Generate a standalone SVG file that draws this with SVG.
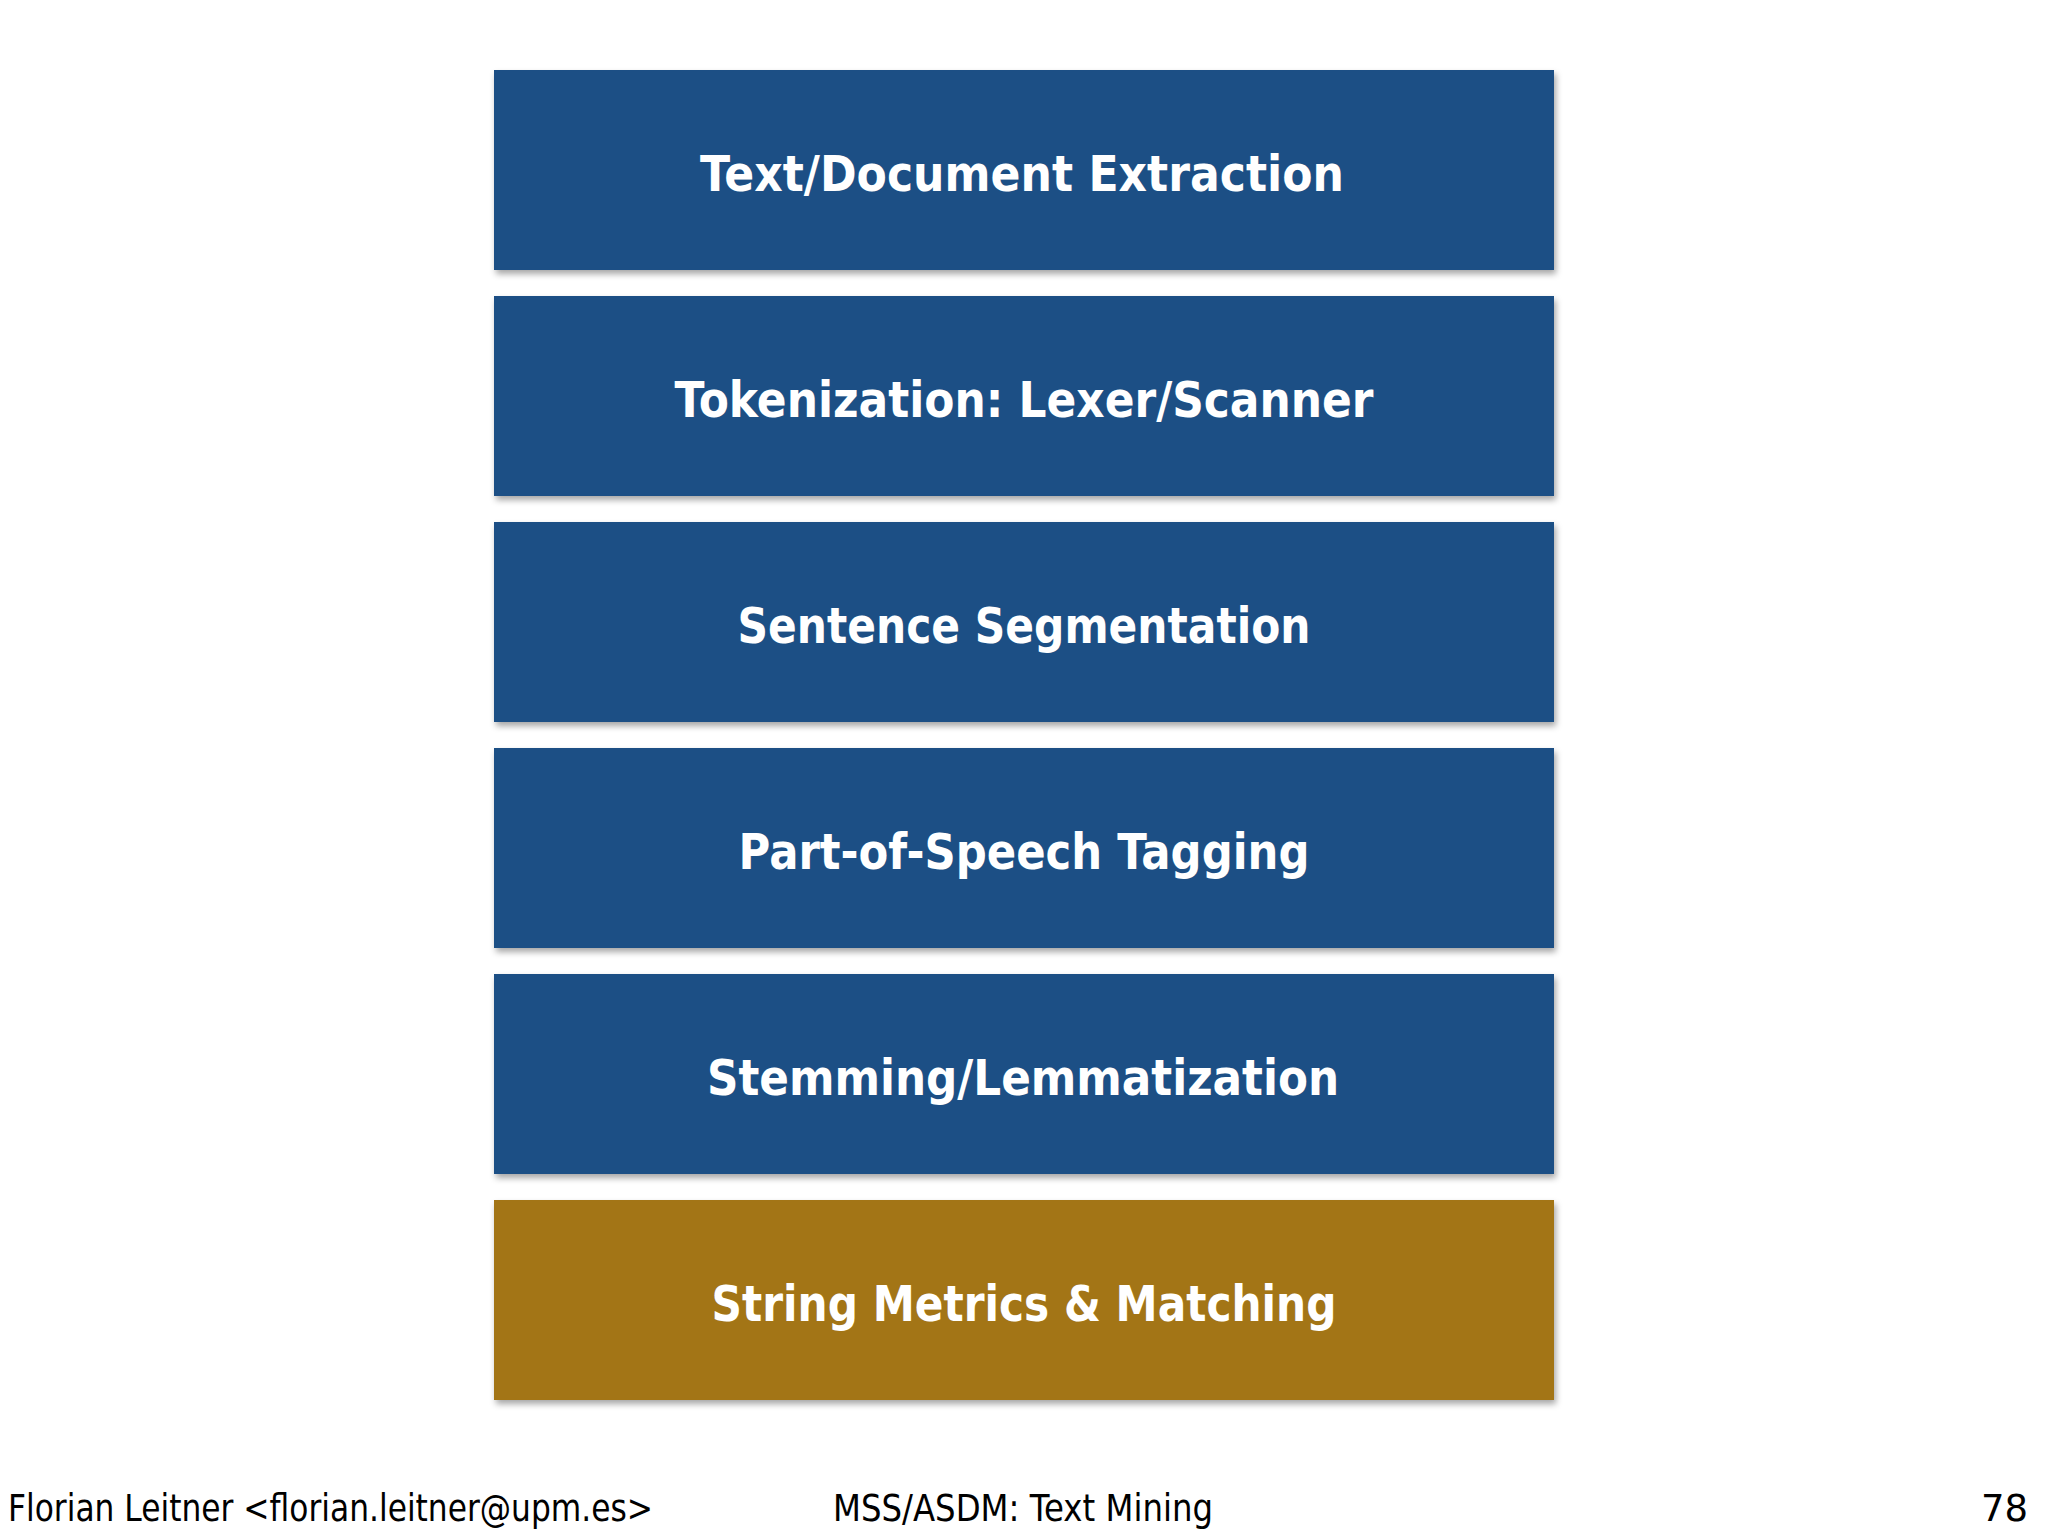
<svg xmlns="http://www.w3.org/2000/svg" width="2048" height="1536" viewBox="0 0 2048 1536">
<defs>
<filter id="sh" x="-5%" y="-10%" width="110%" height="125%">
<feDropShadow dx="2" dy="4" stdDeviation="3" flood-color="#000" flood-opacity="0.35"/>
</filter>
<style>
.box{filter:url(#sh);}
.blue{fill:#1B4F85;}
.gold{fill:#A37415;}
.lbl{font-family:"DejaVu Sans",Verdana,sans-serif;font-weight:bold;font-size:50px;fill:#fff;text-anchor:middle;}
.foot{font-family:"DejaVu Sans",Tahoma,sans-serif;font-size:37px;fill:#000;}
</style>
</defs>
<rect width="2048" height="1536" fill="#fff"/>
<g id="n1"><rect class="box blue" x="494" y="70" width="1060" height="200"/><text class="lbl" x="1022" y="191" textLength="644" lengthAdjust="spacingAndGlyphs">Text/Document Extraction</text></g>
<g id="n2"><rect class="box blue" x="494" y="296" width="1060" height="200"/><text class="lbl" x="1024" y="417" textLength="699" lengthAdjust="spacingAndGlyphs">Tokenization: Lexer/Scanner</text></g>
<g id="n3"><rect class="box blue" x="494" y="522" width="1060" height="200"/><text class="lbl" x="1024" y="643" textLength="573" lengthAdjust="spacingAndGlyphs">Sentence Segmentation</text></g>
<g id="n4"><rect class="box blue" x="494" y="748" width="1060" height="200"/><text class="lbl" x="1024" y="869" textLength="571" lengthAdjust="spacingAndGlyphs">Part-of-Speech Tagging</text></g>
<g id="n5"><rect class="box blue" x="494" y="974" width="1060" height="200"/><text class="lbl" x="1023" y="1095" textLength="632" lengthAdjust="spacingAndGlyphs">Stemming/Lemmatization</text></g>
<g id="n6"><rect class="box gold" x="494" y="1200" width="1060" height="200"/><text class="lbl" x="1024" y="1321" textLength="625" lengthAdjust="spacingAndGlyphs">String Metrics &amp; Matching</text></g>
<g id="connectors"/>
<g id="footer">
<text class="foot" x="8" y="1521" textLength="645" lengthAdjust="spacingAndGlyphs">Florian Leitner &lt;florian.leitner@upm.es&gt;</text>
<text class="foot" x="833" y="1521" textLength="380" lengthAdjust="spacingAndGlyphs">MSS/ASDM: Text Mining</text>
<text class="foot" x="2028" y="1521" text-anchor="end">78</text>
</g>
</svg>
